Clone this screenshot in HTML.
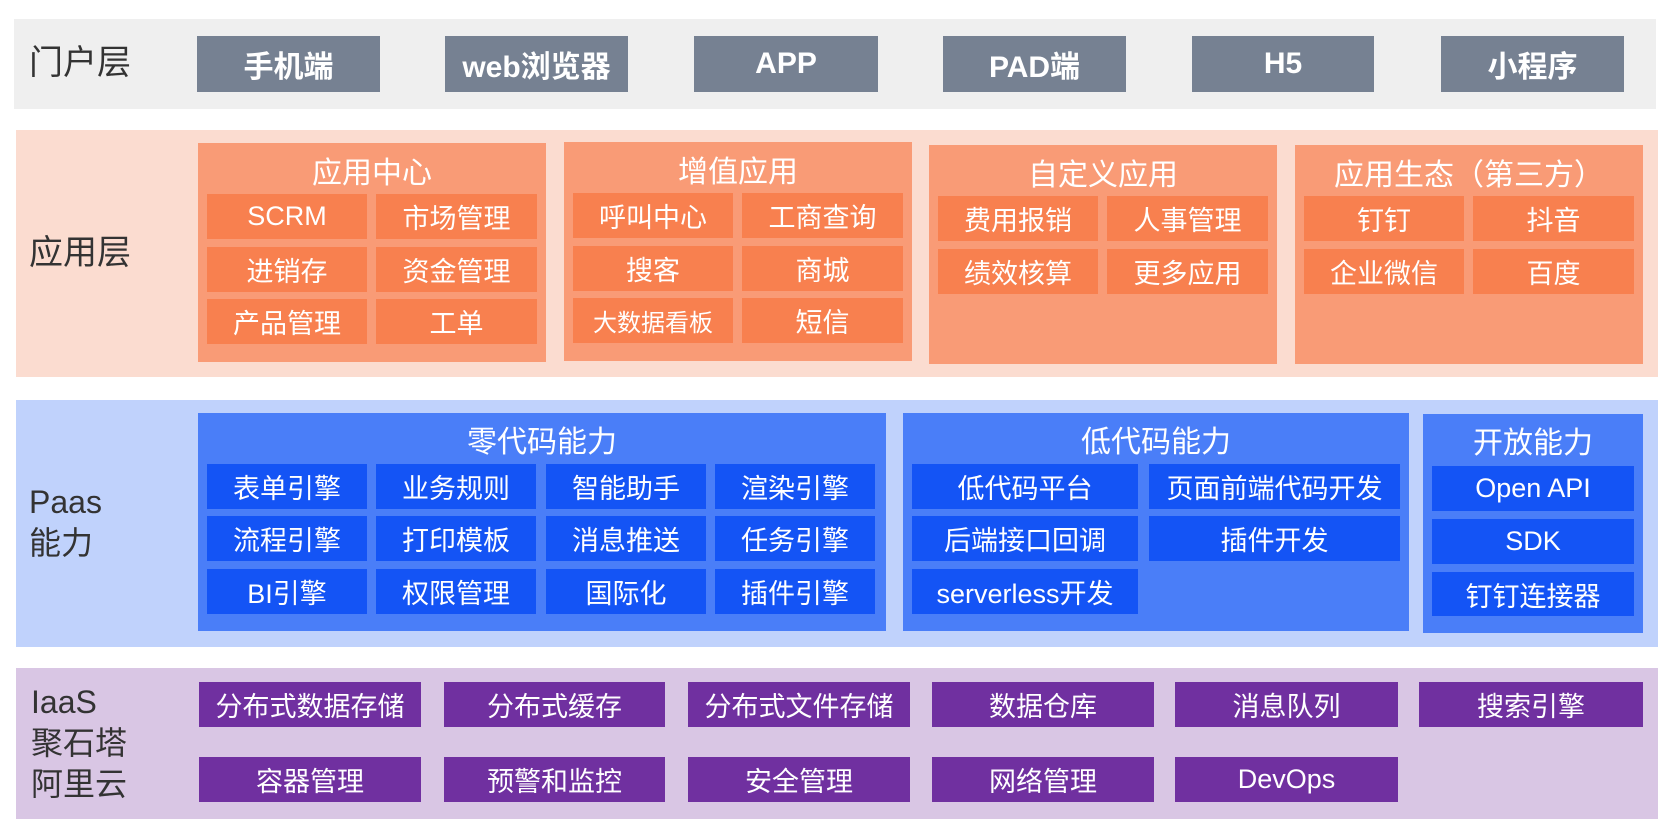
<!DOCTYPE html>
<html><head><meta charset="utf-8"><style>
body{margin:0;width:1672px;height:838px;background:#fff;position:relative;overflow:hidden;font-family:"Liberation Sans","Noto Sans CJK SC",sans-serif;}
div{position:absolute;box-sizing:border-box;}
.c{display:flex;align-items:center;justify-content:center;color:#fff;white-space:nowrap;}
.pb{background:#768192;font-weight:bold;font-size:30px;}
.ag{background:#f99b76;}
.ac{background:#f8804f;font-size:27px;}
.pg{background:#4a7ef8;}
.pc{background:#1454f5;font-size:27px;}
.ic{background:#7030a0;font-size:27px;}
.t{font-size:30px;}
.lab{color:#333;font-size:34px;line-height:41px;}
</style></head><body>
<!-- portal -->
<div style="left:14px;top:19px;width:1642px;height:90px;background:#efefef"></div>
<div class="lab" style="left:29px;top:43px">门户层</div>
<div class="c pb" style="left:197px;top:36px;width:183px;height:56px">手机端</div>
<div class="c pb" style="left:445px;top:36px;width:183px;height:56px">web浏览器</div>
<div class="c pb" style="left:694px;top:36px;width:184px;height:56px">APP</div>
<div class="c pb" style="left:943px;top:36px;width:183px;height:56px">PAD端</div>
<div class="c pb" style="left:1192px;top:36px;width:182px;height:56px">H5</div>
<div class="c pb" style="left:1441px;top:36px;width:183px;height:56px">小程序</div>
<!-- app -->
<div style="left:16px;top:130px;width:1642px;height:247px;background:#fbdcd0"></div>
<div class="lab" style="left:29px;top:233px">应用层</div>

<div class="ag" style="left:198px;top:143px;width:348px;height:219px"></div>
<div class="c t" style="left:198px;top:150px;width:348px;height:40px">应用中心</div>
<div class="c ac" style="left:207px;top:194px;width:160px;height:45px">SCRM</div>
<div class="c ac" style="left:376px;top:194px;width:161px;height:45px">市场管理</div>
<div class="c ac" style="left:207px;top:247px;width:160px;height:45px">进销存</div>
<div class="c ac" style="left:376px;top:247px;width:161px;height:45px">资金管理</div>
<div class="c ac" style="left:207px;top:299px;width:160px;height:45px">产品管理</div>
<div class="c ac" style="left:376px;top:299px;width:161px;height:45px">工单</div>

<div class="ag" style="left:564px;top:142px;width:348px;height:219px"></div>
<div class="c t" style="left:564px;top:149px;width:348px;height:40px">增值应用</div>
<div class="c ac" style="left:573px;top:193px;width:160px;height:45px">呼叫中心</div>
<div class="c ac" style="left:742px;top:193px;width:161px;height:45px">工商查询</div>
<div class="c ac" style="left:573px;top:246px;width:160px;height:45px">搜客</div>
<div class="c ac" style="left:742px;top:246px;width:161px;height:45px">商城</div>
<div class="c ac" style="left:573px;top:298px;width:160px;height:45px;font-size:24px">大数据看板</div>
<div class="c ac" style="left:742px;top:298px;width:161px;height:45px">短信</div>

<div class="ag" style="left:929px;top:145px;width:348px;height:219px"></div>
<div class="c t" style="left:929px;top:152px;width:348px;height:40px">自定义应用</div>
<div class="c ac" style="left:938px;top:196px;width:160px;height:45px">费用报销</div>
<div class="c ac" style="left:1107px;top:196px;width:161px;height:45px">人事管理</div>
<div class="c ac" style="left:938px;top:249px;width:160px;height:45px">绩效核算</div>
<div class="c ac" style="left:1107px;top:249px;width:161px;height:45px">更多应用</div>

<div class="ag" style="left:1295px;top:145px;width:348px;height:219px"></div>
<div class="c t" style="left:1295px;top:152px;width:348px;height:40px">应用生态（第三方）</div>
<div class="c ac" style="left:1304px;top:196px;width:160px;height:45px">钉钉</div>
<div class="c ac" style="left:1473px;top:196px;width:161px;height:45px">抖音</div>
<div class="c ac" style="left:1304px;top:249px;width:160px;height:45px">企业微信</div>
<div class="c ac" style="left:1473px;top:249px;width:161px;height:45px">百度</div>
<!-- paas -->
<div style="left:16px;top:400px;width:1642px;height:247px;background:#c0d2fc"></div>
<div class="lab" style="left:29px;top:482px;font-size:32px">Paas<br>能力</div>

<div class="pg" style="left:198px;top:413px;width:688px;height:218px"></div>
<div class="c t" style="left:198px;top:419px;width:688px;height:40px">零代码能力</div>
<div class="c pc" style="left:207px;top:464px;width:160px;height:45px">表单引擎</div>
<div class="c pc" style="left:376px;top:464px;width:160px;height:45px">业务规则</div>
<div class="c pc" style="left:546px;top:464px;width:160px;height:45px">智能助手</div>
<div class="c pc" style="left:715px;top:464px;width:160px;height:45px">渲染引擎</div>
<div class="c pc" style="left:207px;top:516px;width:160px;height:45px">流程引擎</div>
<div class="c pc" style="left:376px;top:516px;width:160px;height:45px">打印模板</div>
<div class="c pc" style="left:546px;top:516px;width:160px;height:45px">消息推送</div>
<div class="c pc" style="left:715px;top:516px;width:160px;height:45px">任务引擎</div>
<div class="c pc" style="left:207px;top:569px;width:160px;height:45px">BI引擎</div>
<div class="c pc" style="left:376px;top:569px;width:160px;height:45px">权限管理</div>
<div class="c pc" style="left:546px;top:569px;width:160px;height:45px">国际化</div>
<div class="c pc" style="left:715px;top:569px;width:160px;height:45px">插件引擎</div>

<div class="pg" style="left:903px;top:413px;width:506px;height:218px"></div>
<div class="c t" style="left:903px;top:419px;width:506px;height:40px">低代码能力</div>
<div class="c pc" style="left:912px;top:464px;width:226px;height:45px">低代码平台</div>
<div class="c pc" style="left:1149px;top:464px;width:251px;height:45px">页面前端代码开发</div>
<div class="c pc" style="left:912px;top:516px;width:226px;height:45px">后端接口回调</div>
<div class="c pc" style="left:1149px;top:516px;width:251px;height:45px">插件开发</div>
<div class="c pc" style="left:912px;top:569px;width:226px;height:45px">serverless开发</div>

<div class="pg" style="left:1423px;top:414px;width:220px;height:219px"></div>
<div class="c t" style="left:1423px;top:420px;width:220px;height:40px">开放能力</div>
<div class="c pc" style="left:1432px;top:466px;width:202px;height:45px">Open API</div>
<div class="c pc" style="left:1432px;top:519px;width:202px;height:45px">SDK</div>
<div class="c pc" style="left:1432px;top:572px;width:202px;height:44px">钉钉连接器</div>
<!-- iaas -->
<div style="left:16px;top:668px;width:1642px;height:151px;background:#d9c6e4"></div>
<div class="lab" style="left:31px;top:682px;font-size:32px">IaaS<br>聚石塔<br>阿里云</div>
<div class="c ic" style="left:199px;top:682px;width:222px;height:45px">分布式数据存储</div>
<div class="c ic" style="left:444px;top:682px;width:221px;height:45px">分布式缓存</div>
<div class="c ic" style="left:688px;top:682px;width:222px;height:45px">分布式文件存储</div>
<div class="c ic" style="left:932px;top:682px;width:222px;height:45px">数据仓库</div>
<div class="c ic" style="left:1175px;top:682px;width:223px;height:45px">消息队列</div>
<div class="c ic" style="left:1419px;top:682px;width:224px;height:45px">搜索引擎</div>
<div class="c ic" style="left:199px;top:757px;width:222px;height:45px">容器管理</div>
<div class="c ic" style="left:444px;top:757px;width:221px;height:45px">预警和监控</div>
<div class="c ic" style="left:688px;top:757px;width:222px;height:45px">安全管理</div>
<div class="c ic" style="left:932px;top:757px;width:222px;height:45px">网络管理</div>
<div class="c ic" style="left:1175px;top:757px;width:223px;height:45px">DevOps</div>
</body></html>
